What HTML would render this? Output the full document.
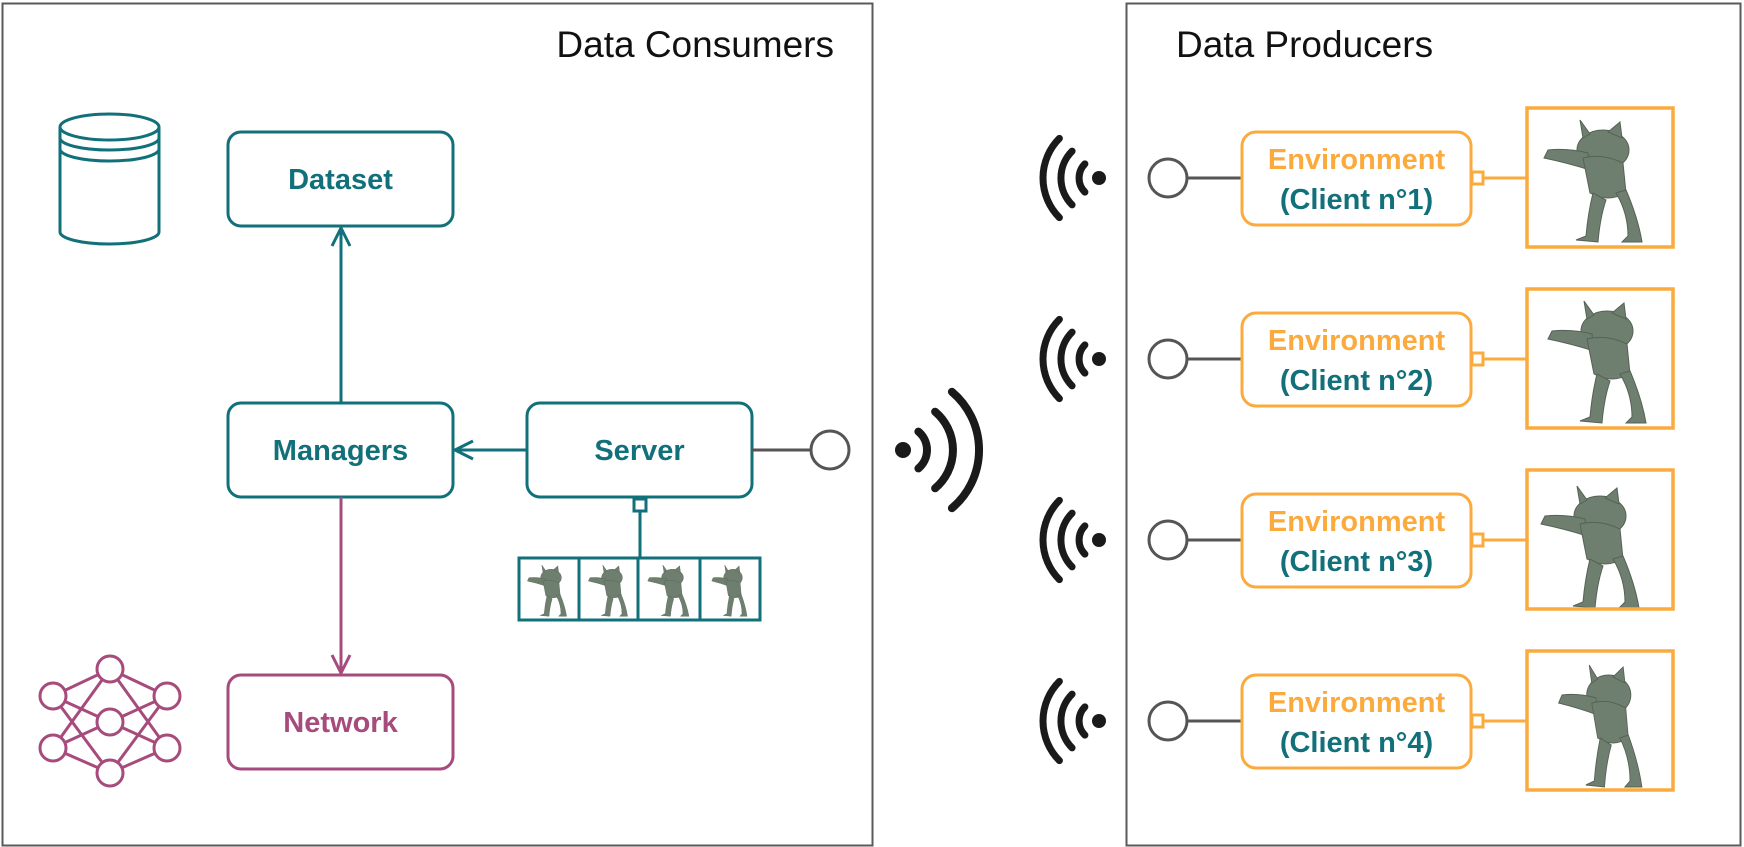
<!DOCTYPE html>
<html><head><meta charset="utf-8"><style>
html,body{margin:0;padding:0;background:#fff;}
svg{display:block;}
text{font-family:"Liberation Sans",Arial,sans-serif;}
</style></head><body>
<svg width="1744" height="847" viewBox="0 0 1744 847" xmlns="http://www.w3.org/2000/svg">
<defs>
<g id="mon">
  <g fill="#6f7f6f" stroke="#556255" stroke-width="1">
    <ellipse cx="75" cy="42" rx="26" ry="20"/>
    <path d="M55 30 L52 12 L62 26 Z"/>
    <path d="M80 24 L92 14 L94 30 Z"/>
    <path d="M60 45 Q40 40 20 42 L16 50 Q40 55 62 62 Z"/>
    <path d="M55 50 Q75 45 95 55 L98 85 Q80 95 62 85 Z"/>
    <path d="M65 85 Q60 105 58 128 L48 132 L70 134 Q72 110 78 92 Z"/>
    <path d="M88 85 Q100 105 100 128 L94 134 L114 134 Q110 110 98 82 Z"/>
  </g>
</g>
<g id="row">
  <g stroke="#1a1a1a" stroke-width="7" fill="none" stroke-linecap="round">
    <circle cx="1099" cy="178" r="7" fill="#1a1a1a" stroke="none"/>
    <path d="M1084.9 163.9 A20 20 0 0 0 1084.9 192.1"/>
    <path d="M1072.1 151.1 A38 38 0 0 0 1072.1 204.9"/>
    <path d="M1059.4 138.4 A56 56 0 0 0 1059.4 217.6"/>
  </g>
  <line x1="1187" y1="178" x2="1242" y2="178" stroke="#555" stroke-width="3"/>
  <circle cx="1168" cy="178" r="19" stroke="#555" stroke-width="3" fill="#fff"/>
  <rect x="1242" y="132" width="229" height="93" rx="14" fill="#fff" stroke="#fbab3e" stroke-width="3"/>
  <rect x="1472" y="172" width="11" height="12" fill="#fff" stroke="#fbab3e" stroke-width="3"/>
  <line x1="1484" y1="178" x2="1527" y2="178" stroke="#fbab3e" stroke-width="3"/>
  <text x="1356.5" y="169" font-size="29" font-weight="bold" text-anchor="middle" fill="#fbab3e">Environment</text>
</g>
</defs>

<rect x="2.5" y="3.5" width="870" height="842" fill="none" stroke="#5a5a5a" stroke-width="2"/>
<rect x="1126.5" y="3.5" width="614" height="842" fill="none" stroke="#5a5a5a" stroke-width="2"/>
<text x="834" y="57" font-size="37" text-anchor="end" fill="#111">Data Consumers</text>
<text x="1176" y="57" font-size="37" fill="#111">Data Producers</text>

<g fill="none" stroke="#12707a" stroke-width="3">
  <path d="M60 127 L60 232 A49.5 12 0 0 0 159 232 L159 127"/>
  <ellipse cx="109.5" cy="127" rx="49.5" ry="13"/>
  <path d="M60 138 A49.5 12 0 0 0 159 138"/>
  <path d="M60 149 A49.5 12 0 0 0 159 149"/>
</g>

<g fill="#fff" stroke-width="3">
  <rect x="228" y="132" width="225" height="94" rx="13" stroke="#12707a"/>
  <rect x="228" y="403" width="225" height="94" rx="13" stroke="#12707a"/>
  <rect x="527" y="403" width="225" height="94" rx="13" stroke="#12707a"/>
  <rect x="228" y="675" width="225" height="94" rx="13" stroke="#a64b7c"/>
</g>
<g font-size="29" font-weight="bold" text-anchor="middle">
  <text x="340.5" y="189" fill="#12707a">Dataset</text>
  <text x="340.5" y="460" fill="#12707a">Managers</text>
  <text x="639.5" y="460" fill="#12707a">Server</text>
  <text x="340.5" y="732" fill="#a64b7c">Network</text>
</g>

<g stroke-width="3" fill="none">
  <line x1="341" y1="403" x2="341" y2="229" stroke="#12707a"/>
  <path d="M332 246 L341 228 L350 246" stroke="#12707a"/>
  <line x1="527" y1="450" x2="456" y2="450" stroke="#12707a"/>
  <path d="M473 441 L455 450 L473 459" stroke="#12707a"/>
  <line x1="341" y1="497" x2="341" y2="672" stroke="#a64b7c"/>
  <path d="M332 655 L341 673 L350 655" stroke="#a64b7c"/>
  <line x1="752" y1="450" x2="810" y2="450" stroke="#555"/>
  <circle cx="830" cy="450" r="19" stroke="#555" fill="#fff"/>
  <rect x="634" y="499" width="12" height="12" stroke="#12707a" fill="#fff"/>
  <line x1="640" y1="511" x2="640" y2="558" stroke="#12707a"/>
</g>

<g>
  <use href="#mon" transform="translate(521,560) scale(0.4,0.42)"/>
  <use href="#mon" transform="translate(582,560) scale(0.4,0.42)"/>
  <use href="#mon" transform="translate(641,560) scale(0.42,0.42)"/>
  <use href="#mon" transform="translate(706,560) scale(0.36,0.42)"/>
  <g fill="none" stroke="#12707a" stroke-width="3">
    <rect x="519" y="558" width="241" height="62"/>
    <line x1="579" y1="558" x2="579" y2="620"/>
    <line x1="638" y1="558" x2="638" y2="620"/>
    <line x1="700" y1="558" x2="700" y2="620"/>
  </g>
</g>

<g stroke="#a64b7c" stroke-width="3" fill="none">
  <path d="M53 696 L110 669 L167 696 M53 696 L110 722 L167 696 M53 696 L110 773 L167 696 M53 748 L110 669 L167 748 M53 748 L110 722 L167 748 M53 748 L110 773 L167 748"/>
  <g fill="#fff">
    <circle cx="110" cy="669" r="13"/><circle cx="110" cy="722" r="13"/><circle cx="110" cy="773" r="13"/>
    <circle cx="53" cy="696" r="13"/><circle cx="53" cy="748" r="13"/>
    <circle cx="167" cy="696" r="13"/><circle cx="167" cy="748" r="13"/>
  </g>
</g>

<g stroke="#1a1a1a" stroke-width="8" fill="none" stroke-linecap="round">
  <circle cx="903" cy="450" r="8" fill="#1a1a1a" stroke="none"/>
  <path d="M918.4 431.6 A24 24 0 0 1 918.4 468.4"/>
  <path d="M935.1 411.7 A50 50 0 0 1 935.1 488.3"/>
  <path d="M951.9 391.8 A76 76 0 0 1 951.9 508.2"/>
</g>

<use href="#row"/>
<use href="#mon" transform="translate(1528,108)"/>
<rect x="1527" y="108" width="146" height="139" fill="none" stroke="#fbab3e" stroke-width="3.5"/>
<text x="1356.5" y="209" font-size="29" font-weight="bold" text-anchor="middle" fill="#12707a">(Client n°1)</text>

<use href="#row" transform="translate(0,181)"/>
<use href="#mon" transform="translate(1532,289)"/>
<rect x="1527" y="289" width="146" height="139" fill="none" stroke="#fbab3e" stroke-width="3.5"/>
<text x="1356.5" y="390" font-size="29" font-weight="bold" text-anchor="middle" fill="#12707a">(Client n°2)</text>

<use href="#row" transform="translate(0,362)"/>
<use href="#mon" transform="translate(1525,474)"/>
<rect x="1527" y="470" width="146" height="139" fill="none" stroke="#fbab3e" stroke-width="3.5"/>
<text x="1356.5" y="571" font-size="29" font-weight="bold" text-anchor="middle" fill="#12707a">(Client n°3)</text>

<use href="#row" transform="translate(0,543)"/>
<use href="#mon" transform="translate(1545,653) scale(0.85,1)"/>
<rect x="1527" y="651" width="146" height="139" fill="none" stroke="#fbab3e" stroke-width="3.5"/>
<text x="1356.5" y="752" font-size="29" font-weight="bold" text-anchor="middle" fill="#12707a">(Client n°4)</text>
</svg>
</body></html>
